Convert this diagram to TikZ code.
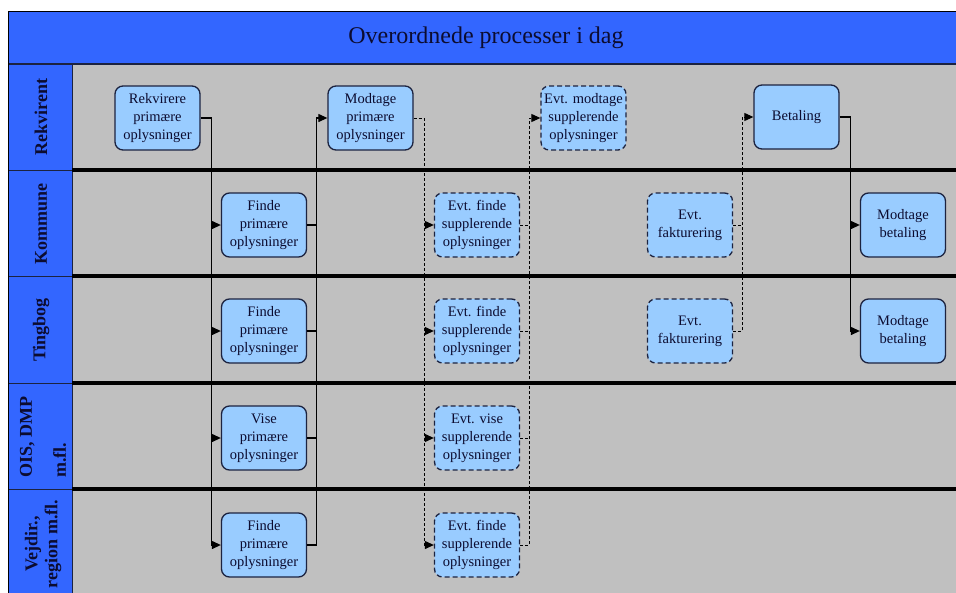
\documentclass[tikz,border=0pt]{standalone}
\usepackage{fontspec}
\setmainfont{Liberation Serif}
\usetikzlibrary{arrows.meta,calc}
\definecolor{hdrblue}{RGB}{51,102,255}
\definecolor{lanegray}{RGB}{192,192,192}
\definecolor{nodeblue}{RGB}{153,204,255}
\definecolor{edgenavy}{RGB}{28,35,64}
\definecolor{textnavy}{RGB}{12,12,48}
\tikzset{
  proc/.style={draw=edgenavy, line width=1.3pt, fill=nodeblue, rounded corners=8pt,
    minimum width=85pt, minimum height=64pt, inner sep=0pt, align=center,
    text=textnavy, font=\fontsize{14.5}{18}\selectfont},
  optproc/.style={proc, dash pattern=on 5pt off 3pt},
  lanelabel/.style={rotate=90, font=\bfseries\fontsize{18}{20}\selectfont,
    text=textnavy, inner sep=0pt},
  flow/.style={draw=black, line width=1.2pt},
  optflow/.style={flow, line width=1pt, dash pattern=on 3pt off 2pt},
  tip/.style={-{Triangle[length=9pt,width=8pt]}},
}
\begin{document}
\begin{tikzpicture}[x=1pt,y=-1pt]
\useasboundingbox (0,0) rectangle (956,592);
\clip (0,0) rectangle (956,592);
\fill[white] (0,0) rectangle (956,592);

% title bar
\draw[fill=hdrblue, draw=black, line width=1pt] (8,11) rectangle (962,64);
\node[text=textnavy, font=\fontsize{24}{28}\selectfont] (title) at (486,38) {Overordnede processer i dag};

% lane area
\fill[lanegray] (72,64) rectangle (962,600);
\draw[edgenavy, line width=2pt] (8,64) -- (962,64);
\foreach \ya/\yb in {64/170,170/276,276/383,383/489,489/600}
  \draw[fill=hdrblue, draw=edgenavy, line width=0.8pt] (8,\ya) rectangle (72,\yb);
\foreach \yy in {170,276,383,489}
  \draw[black, line width=4pt] (72,\yy) -- (962,\yy);
\draw[black, line width=1pt] (8,11) -- (8,600);

% lane names
\node[lanelabel] (lr) at (41,117) {Rekvirent};
\node[lanelabel] (lk) at (41,224) {Kommune};
\node[lanelabel] (lt) at (41,330) {Tingbog};
\node[lanelabel, align=left] (lo) at (43,437) {OIS, DMP\\[14pt]m.fl.};
\node[lanelabel, align=center] (lv) at (43,544) {Vejdir.,\\region m.fl.};

% process steps
\node[proc]    (r1) at (157.5,118) {Rekvirere\\primære\\oplysninger};
\node[proc]    (r2) at (370.5,118) {Modtage\\primære\\oplysninger};
\node[optproc] (r3) at (583.5,118) {Evt. modtage\\supplerende\\oplysninger};
\node[proc]    (r4) at (796.5,117) {Betaling};

\node[proc]    (k1) at (264,225) {Finde\\primære\\oplysninger};
\node[optproc] (k2) at (477,225) {Evt. finde\\supplerende\\oplysninger};
\node[optproc] (k3) at (690,225) {Evt.\\fakturering};
\node[proc]    (k4) at (903,225) {Modtage\\betaling};

\node[proc]    (t1) at (264,331) {Finde\\primære\\oplysninger};
\node[optproc] (t2) at (477,331) {Evt. finde\\supplerende\\oplysninger};
\node[optproc] (t3) at (690,331) {Evt.\\fakturering};
\node[proc]    (t4) at (903,331) {Modtage\\betaling};

\node[proc]    (o1) at (264,438) {Vise\\primære\\oplysninger};
\node[optproc] (o2) at (477,438) {Evt. vise\\supplerende\\oplysninger};

\node[proc]    (v1) at (264,545) {Finde\\primære\\oplysninger};
\node[optproc] (v2) at (477,545) {Evt. finde\\supplerende\\oplysninger};

% request for primary information, sent to every source
\coordinate (j1) at ($(r1.east)+(11,0)$);
\draw[flow] (r1.east) -- (j1);
\foreach \n in {k1,t1,o1,v1} \draw[flow,tip] (j1) |- (\n.west);

% primary information collected back
\coordinate (j2) at ($(r2.west)+(-11,0)$);
\draw[flow,tip] (v1.east) -| (j2) -- (r2.west);
\foreach \n in {k1,t1,o1} \draw[flow] (\n.east) -- (\n.east -| j2);

% optional supplementary request
\coordinate (j3) at ($(r2.east)+(11,0)$);
\draw[optflow] (r2.east) -- (j3);
\foreach \n in {k2,t2,o2,v2} \draw[optflow,tip] (j3) |- (\n.west);

% supplementary information collected back
\coordinate (j4) at ($(r3.west)+(-11,0)$);
\draw[optflow,tip] (v2.east) -| (j4) -- (r3.west);
\foreach \n in {k2,t2,o2} \draw[optflow] (\n.east) -- (\n.east -| j4);

% invoicing
\coordinate (j5) at ($(r4.west)+(-11,0)$);
\draw[optflow,tip] (t3.east) -| (j5) -- (r4.west);
\draw[optflow] (k3.east) -- (k3.east -| j5);

% payment
\coordinate (j6) at ($(r4.east)+(11,0)$);
\draw[flow] (r4.east) -- (j6);
\foreach \n in {k4,t4} \draw[flow,tip] (j6) |- (\n.west);
\end{tikzpicture}
\end{document}
